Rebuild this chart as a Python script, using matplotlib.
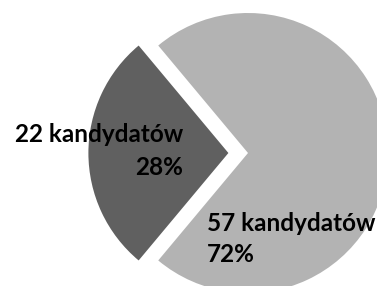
import matplotlib
matplotlib.use("Agg")
import matplotlib.pyplot as plt

# data
counts = [22, 57]
colors = ["#606060", "#b3b3b3"]
explode = [0.14, 0]

total = sum(counts)
pcts = [round(100 * c / total) for c in counts]

fig = plt.figure(figsize=(3.77, 2.86), dpi=100)
ax = fig.add_axes([0, 0, 1, 1])

# dark slice centred on the left side
start = 180 - 360 * counts[0] / total / 2
ax.pie(counts, colors=colors, explode=explode, startangle=start,
       counterclock=True, radius=1.0)

# light slice centre at about (248, 153) px, radius ~140 px
ax.set_xlim(-248 / 140, (377 - 248) / 140)
ax.set_ylim(-133 / 140, (286 - 133) / 140)
ax.set_aspect("auto")
ax.axis("off")

font = dict(family=["Lato", "DejaVu Sans"], fontweight="bold", fontsize=17.5, color="black")
ax.text(183 / 377, 1 - 151 / 286, f"{counts[0]} kandydatów\n{pcts[0]}%",
        transform=ax.transAxes, ha="right", va="center", multialignment="right",
        linespacing=1.55, **font)
ax.text(207 / 377, 1 - 239 / 286, f"{counts[1]} kandydatów\n{pcts[1]}%",
        transform=ax.transAxes, ha="left", va="center", multialignment="left",
        linespacing=1.38, **font)

fig.savefig("out.png", dpi=100)
